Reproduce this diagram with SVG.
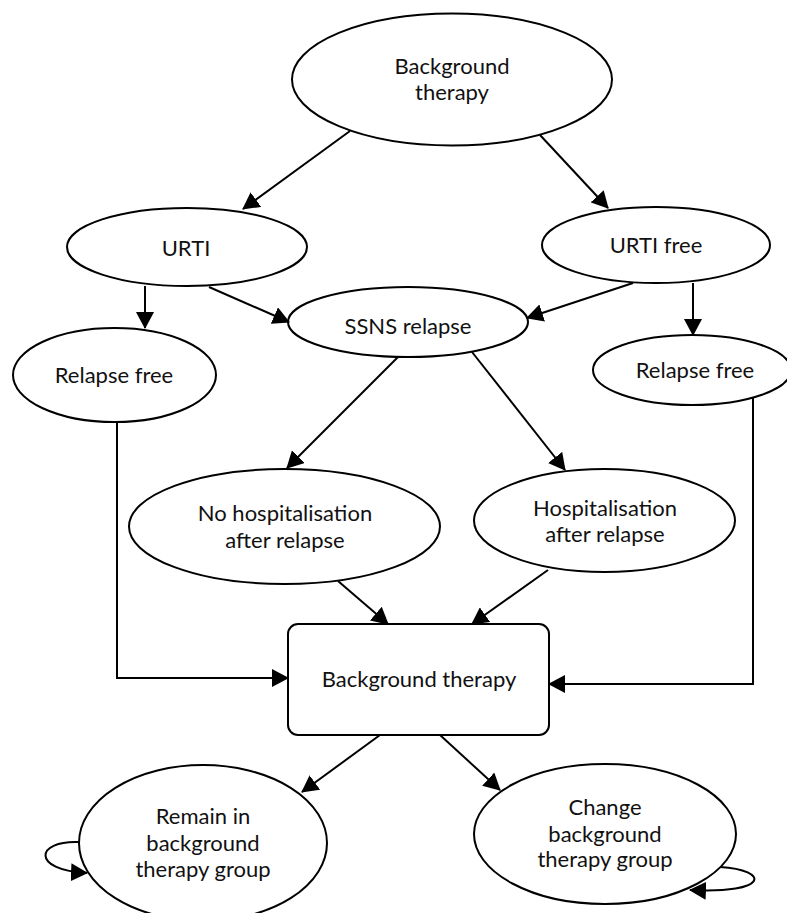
<svg xmlns="http://www.w3.org/2000/svg" width="787" height="913" viewBox="0 0 787 913">
<defs>
<style>
.n{fill:#fff;stroke:#000;stroke-width:2}
.t{font-family:Lato,"Liberation Sans",sans-serif;font-size:22px;fill:#111;text-anchor:middle}
.c{fill:none;stroke:#000;stroke-width:2;marker-end:url(#ah)}
</style>
<marker id="ah" viewBox="0 0 17 18" refX="16" refY="9" markerWidth="17" markerHeight="18" markerUnits="userSpaceOnUse" orient="auto">
<path d="M0,0 L17,9 L0,18 z" fill="#000"/>
</marker>
</defs>
<rect width="787" height="913" fill="#fff"/>
<g id="nodes">
<g id="bg-top">
<ellipse class="n" cx="452" cy="79.5" rx="160" ry="66"/>
<text class="t" x="452" y="74">Background</text>
<text class="t" x="452" y="100">therapy</text>
</g>
<g id="urti">
<ellipse class="n" cx="187" cy="247" rx="120" ry="39"/>
<text class="t" x="186" y="256">URTI</text>
</g>
<g id="urti-free">
<ellipse class="n" cx="656" cy="245" rx="114" ry="38"/>
<text class="t" x="656" y="253">URTI free</text>
</g>
<g id="ssns">
<ellipse class="n" cx="408" cy="322" rx="120" ry="35"/>
<text class="t" x="408" y="334">SSNS relapse</text>
</g>
<g id="relapse-free-left">
<ellipse class="n" cx="114.5" cy="375" rx="101.5" ry="47"/>
<text class="t" x="114" y="383">Relapse free</text>
</g>
<g id="relapse-free-right">
<ellipse class="n" cx="692" cy="370" rx="99" ry="35"/>
<text class="t" x="695" y="378">Relapse free</text>
</g>
<g id="no-hosp">
<ellipse class="n" cx="284.5" cy="526.5" rx="155.5" ry="57.5"/>
<text class="t" x="285" y="521">No hospitalisation</text>
<text class="t" x="285" y="548">after relapse</text>
</g>
<g id="hosp">
<ellipse class="n" cx="604.5" cy="520.5" rx="130.5" ry="51.5"/>
<text class="t" x="605" y="516">Hospitalisation</text>
<text class="t" x="605" y="542">after relapse</text>
</g>
<g id="bg-box">
<rect class="n" x="288" y="624" width="261" height="111" rx="10" ry="10"/>
<text class="t" x="419" y="687">Background therapy</text>
</g>
<g id="remain">
<ellipse class="n" cx="203" cy="843" rx="124" ry="78"/>
<text class="t" x="203" y="824">Remain in</text>
<text class="t" x="203" y="851">background</text>
<text class="t" x="203" y="877">therapy group</text>
</g>
<g id="change">
<ellipse class="n" cx="605" cy="834" rx="131" ry="70"/>
<text class="t" x="605" y="815">Change</text>
<text class="t" x="605" y="842">background</text>
<text class="t" x="605" y="867">therapy group</text>
</g>
</g>
<g id="connectors">
<path class="c" d="M350,131 L243,209"/>
<path class="c" d="M540,135 L608,208"/>
<path class="c" d="M145,286 L145,328"/>
<path class="c" d="M209,287 L289,322"/>
<path class="c" d="M633,283 L527,318"/>
<path class="c" d="M693,283 L693,335"/>
<path class="c" d="M398,357 L287,468"/>
<path class="c" d="M472,352 L565,470"/>
<path class="c" d="M338,581 L388,624"/>
<path class="c" d="M548,570 L472,624"/>
<path class="c" d="M117,422 L117,678 L288,678"/>
<path class="c" d="M753,398 L753,684 L549,684"/>
<path class="c" d="M380,735 L302,792"/>
<path class="c" d="M440,735 L500,790"/>
<path class="c" d="M79,842 C36,840 30,870 87,873"/>
<path class="c" d="M720,867 C770,870 770,894 690,890"/>
</g>
</svg>
